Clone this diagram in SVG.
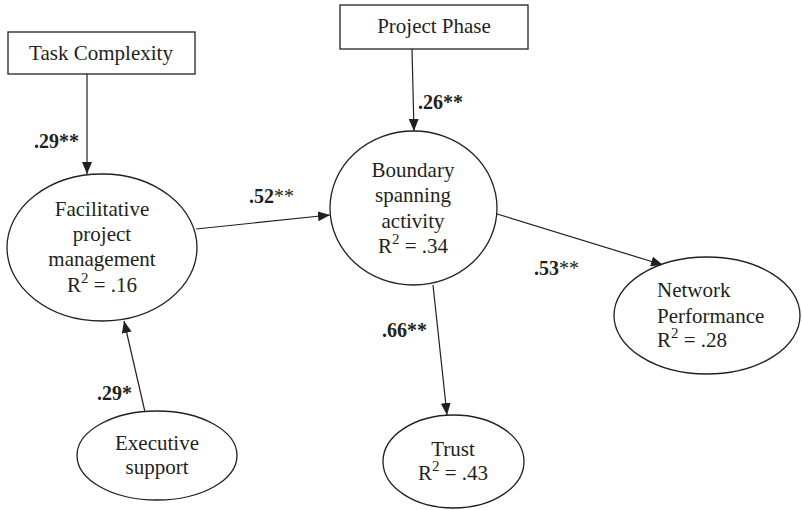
<svg xmlns="http://www.w3.org/2000/svg" width="802" height="510" viewBox="0 0 802 510">
<defs>
<style>
.n{fill:#fff;stroke:#231f20;stroke-width:1.3}
.t{font-family:"Liberation Serif","Times New Roman",serif;font-size:21px;fill:#231f20;text-anchor:middle}
.l{font-family:"Liberation Serif","Times New Roman",serif;font-size:20px;font-weight:bold;fill:#231f20}
.s{font-weight:normal}
.sup{font-size:15px}
.e{stroke:#231f20;stroke-width:1.2;fill:none;marker-end:url(#ah)}
</style>
<marker id="ah" viewBox="0 0 12 10" refX="12" refY="5" markerWidth="12" markerHeight="10" markerUnits="userSpaceOnUse" orient="auto">
<path d="M0,0 L12,5 L0,10 Z" fill="#231f20"/>
</marker>
</defs>
<rect width="802" height="510" fill="#fff"/>
<g id="connectors">
<line class="e" x1="87" y1="74" x2="87" y2="174"/>
<line class="e" x1="412" y1="49" x2="414" y2="131"/>
<line class="e" x1="196" y1="229" x2="330" y2="215"/>
<line class="e" x1="145" y1="412" x2="124" y2="321"/>
<line class="e" x1="497" y1="214" x2="663" y2="265"/>
<line class="e" x1="433" y1="285" x2="447" y2="415"/>
<text class="l" x="34" y="148">.29**</text>
<text class="l" x="418" y="109">.26**</text>
<text class="l" x="249" y="203">.52<tspan class="s">**</tspan></text>
<text class="l" x="97" y="400">.29*</text>
<text class="l" x="534" y="275">.53<tspan class="s">**</tspan></text>
<text class="l" x="382" y="337">.66**</text>
</g>
<g id="task-complexity">
<rect class="n" x="8" y="32" width="187" height="42"/>
<text class="t" x="101" y="60">Task Complexity</text>
</g>
<g id="project-phase">
<rect class="n" x="340" y="5" width="188" height="44"/>
<text class="t" x="434" y="33">Project Phase</text>
</g>
<g id="facilitative">
<ellipse class="n" cx="102" cy="247.5" rx="95" ry="73.5"/>
<text class="t" x="102" y="216">Facilitative</text>
<text class="t" x="102" y="241">project</text>
<text class="t" x="102" y="266">management</text>
<text class="t" x="102" y="292">R<tspan class="sup" dy="-9">2</tspan><tspan dy="9"> = .16</tspan></text>
</g>
<g id="boundary">
<ellipse class="n" cx="413.5" cy="208" rx="83.5" ry="77"/>
<text class="t" x="413" y="177">Boundary</text>
<text class="t" x="413" y="202">spanning</text>
<text class="t" x="413" y="228">activity</text>
<text class="t" x="413" y="253">R<tspan class="sup" dy="-9">2</tspan><tspan dy="9"> = .34</tspan></text>
</g>
<g id="executive">
<ellipse class="n" cx="157" cy="455.5" rx="80" ry="44.5"/>
<text class="t" x="157" y="450">Executive</text>
<text class="t" x="157" y="474">support</text>
</g>
<g id="network">
<ellipse class="n" cx="707" cy="315.5" rx="93" ry="58.5"/>
<text class="t" style="text-anchor:start" x="657" y="297">Network</text>
<text class="t" style="text-anchor:start" x="657" y="323">Performance</text>
<text class="t" style="text-anchor:start" x="657" y="347">R<tspan class="sup" dy="-9">2</tspan><tspan dy="9"> = .28</tspan></text>
</g>
<g id="trust">
<ellipse class="n" cx="453.5" cy="461.5" rx="70.5" ry="46.5"/>
<text class="t" x="453" y="456">Trust</text>
<text class="t" x="453" y="480">R<tspan class="sup" dy="-9">2</tspan><tspan dy="9"> = .43</tspan></text>
</g>
</svg>
